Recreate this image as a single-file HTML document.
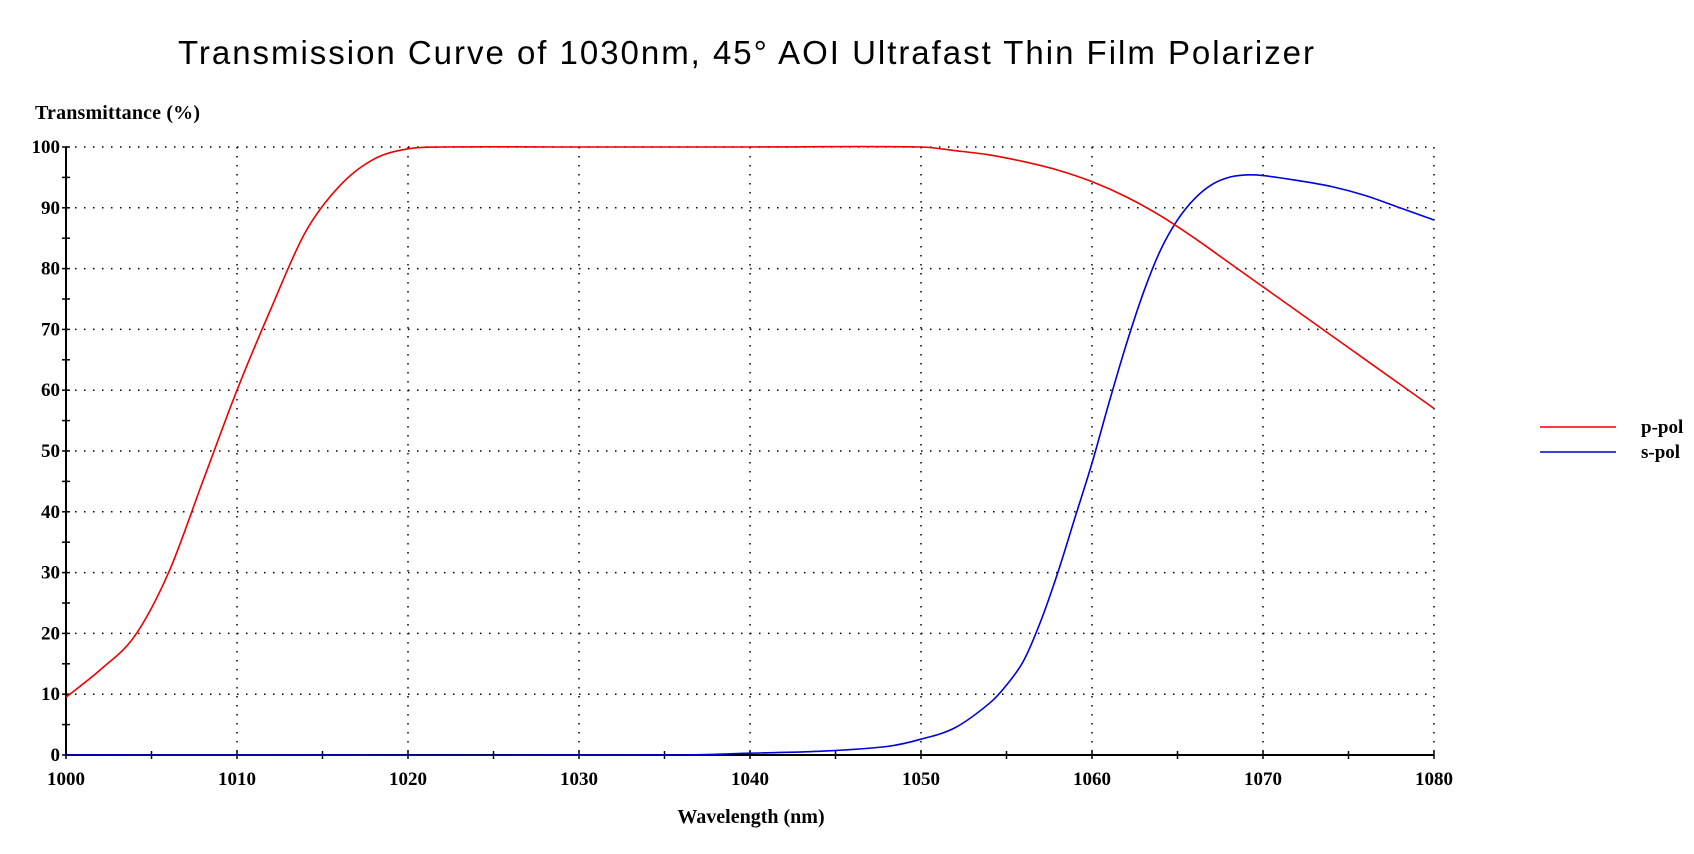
<!DOCTYPE html>
<html><head><meta charset="utf-8"><style>
body{margin:0;background:#fff;width:1694px;height:854px;overflow:hidden}
svg{display:block}
</style></head><body>
<svg id="chart" width="1694" height="854">
<text x="178" y="64" font-family="Liberation Sans, sans-serif" font-size="33" letter-spacing="2" textLength="1138" fill="#000">Transmission Curve of 1030nm, 45° AOI Ultrafast Thin Film Polarizer</text>
<text x="35" y="119" font-family="Liberation Serif, serif" font-size="20" font-weight="bold" textLength="165" fill="#000">Transmittance (%)</text>
<text x="751" y="823" text-anchor="middle" font-family="Liberation Serif, serif" font-size="20" font-weight="bold" fill="#000">Wavelength (nm)</text>
<g id="grid"></g><g id="axes"></g><g id="series"></g>
<g>
<line x1="1540" y1="427" x2="1616" y2="427" stroke="#e00" stroke-width="1.5"/>
<text x="1641" y="433" font-family="Liberation Serif, serif" font-size="19" font-weight="bold">p-pol</text>
<line x1="1540" y1="452" x2="1616" y2="452" stroke="#00c" stroke-width="1.5"/>
<text x="1641" y="458" font-family="Liberation Serif, serif" font-size="19" font-weight="bold">s-pol</text>
</g>
</svg>
<script>
const xTicks=[1000,1010,1020,1030,1040,1050,1060,1070,1080];
const yTicks=[0,10,20,30,40,50,60,70,80,90,100];
const pWl=[1000,1002,1004,1006,1008,1010,1012,1014,1016,1018,1020,1022,1030,1040,1050,1052,1054,1056,1058,1060,1062,1064,1066,1068,1070,1072,1074,1076,1078,1080];
const pVal=[9.5,14,19.5,30,45,60,73.5,86,93.6,98,99.7,100,100,100,100,99.4,98.7,97.6,96.2,94.3,91.8,88.7,85,81,77,73,69,65,61,57];
const sWl=[1000,1036,1040,1044,1048,1050,1052,1054,1055,1056,1057,1058,1059,1060,1061,1062,1063,1064,1065,1066,1067,1068,1069,1070,1072,1074,1076,1078,1080];
const sVal=[0,0,0.3,0.6,1.4,2.6,4.5,8.5,11.5,15.5,22,30,39,48,58,67.5,76,83,88,91.5,93.8,95,95.4,95.3,94.5,93.5,92,90,88];
const NS='http://www.w3.org/2000/svg';
const X0=66,X1=1434,Y0=755,Y1=147;
const xs=v=>X0+(v-1000)/80*(X1-X0);
const ys=v=>Y0-v/100*(Y0-Y1);
function mk(t,a,p){const e=document.createElementNS(NS,t);for(const k in a)e.setAttribute(k,a[k]);p.appendChild(e);return e;}
const grid=document.getElementById('grid'),axes=document.getElementById('axes'),ser=document.getElementById('series');
xTicks.forEach(v=>{
 if(v>1000){const l=mk('line',{x1:xs(v),y1:Y1,x2:xs(v),y2:Y0,stroke:'#000','stroke-width':1.5,'stroke-dasharray':'1.5 7.5'},grid);
 
 }
 const t=mk('text',{x:xs(v),y:785,'text-anchor':'middle','font-family':'Liberation Serif, serif','font-size':19,'font-weight':'bold'},axes);t.textContent=v;
 
 
 mk('line',{x1:xs(v),y1:Y0-4,x2:xs(v),y2:Y0+4,stroke:'#000','stroke-width':1.5},axes);
 if(v<1080)mk('line',{x1:xs(v+5),y1:Y0-4,x2:xs(v+5),y2:Y0+4,stroke:'#000','stroke-width':1.5},axes);
});
yTicks.forEach(v=>{
 if(v>0){const l=mk('line',{x1:X0,y1:ys(v),x2:X1,y2:ys(v),stroke:'#000','stroke-width':1.5,'stroke-dasharray':'1.5 7.5'},grid);
 
 }
 const t=mk('text',{x:X0-6,y:ys(v)+6,'text-anchor':'end','font-family':'Liberation Serif, serif','font-size':19,'font-weight':'bold'},axes);t.textContent=v;
 
 
 mk('line',{x1:X0-4,y1:ys(v),x2:X0+4,y2:ys(v),stroke:'#000','stroke-width':1.5},axes);
 if(v<100)mk('line',{x1:X0-4,y1:ys(v+5),x2:X0+4,y2:ys(v+5),stroke:'#000','stroke-width':1.5},axes);
});
const ya=mk('line',{x1:X0,y1:Y1,x2:X0,y2:Y0,stroke:'#000','stroke-width':2},axes);


const xa=mk('line',{x1:X0,y1:Y0,x2:X1,y2:Y0,stroke:'#000','stroke-width':2},axes);


function path(wl,val){
 const p=wl.map((w,i)=>[xs(w),ys(val[i])]);
 let d='M'+p[0][0]+','+p[0][1];
 for(let i=0;i<p.length-1;i++){
  const a=p[Math.max(0,i-1)],b=p[i],c=p[i+1],e=p[Math.min(p.length-1,i+2)];
  const h=c[0]-b[0];
  const s1=(c[1]-a[1])/(c[0]-a[0]||1),s2=(e[1]-b[1])/(e[0]-b[0]||1);
  d+=` C${b[0]+h/3},${b[1]+s1*h/3} ${c[0]-h/3},${c[1]-s2*h/3} ${c[0]},${c[1]}`;
 }
 return d;
}
const sp=mk('path',{d:path(sWl,sVal),fill:'none',stroke:'#00d','stroke-width':1.6},ser);


const pp=mk('path',{d:path(pWl,pVal),fill:'none',stroke:'#e00','stroke-width':1.6},ser);


</script>
</body></html>
